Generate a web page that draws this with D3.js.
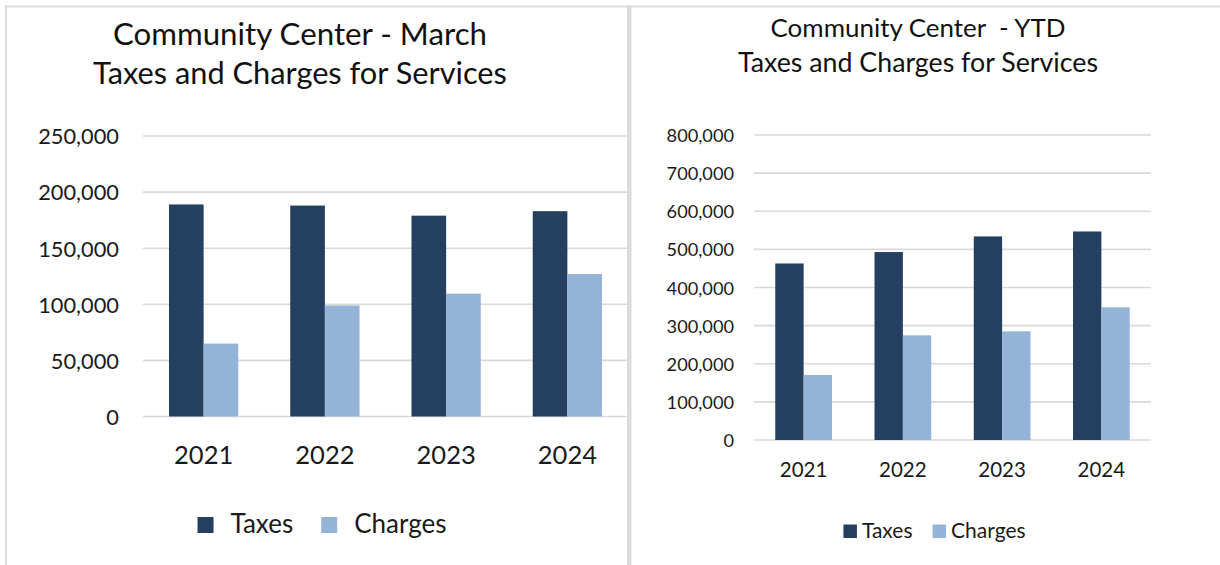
<!DOCTYPE html>
<html>
<head>
<meta charset="utf-8">
<script src="https://cdn.jsdelivr.net/npm/d3@7"></script>
<style>
  html, body { margin: 0; padding: 0; background: #fff; }
  svg { display: block; font-family: Lato, "Noto Sans", sans-serif; }
  .title { white-space: pre; }
</style>
</head>
<body>
<svg id="chart" width="1220" height="565"></svg>
<script>
// ---------- data ----------
const years = ["2021", "2022", "2023", "2024"];
const seriesNames = ["Taxes", "Charges"];
const seriesColors = ["#243F60", "#95B3D7"];

const marchTaxes   = [189000, 188000, 179000, 183000];
const marchCharges = [65000, 99000, 109500, 127000];
const marchTicks   = [0, 50000, 100000, 150000, 200000, 250000];

const ytdTaxes   = [463000, 493000, 534000, 547000];
const ytdCharges = [170500, 274500, 285000, 348000];
const ytdTicks   = [0, 100000, 200000, 300000, 400000, 500000, 600000, 700000, 800000];

const marchTitle = ["Community Center - March", "Taxes and Charges for Services"];
const ytdTitle   = ["Community Center  - YTD", "Taxes and Charges for Services"];

// ---------- frame ----------
const svg = d3.select("#chart");
const border = "#dcdcdc";
svg.append("rect").attr("x", 0).attr("y", 0).attr("width", 1220).attr("height", 565).attr("fill", "#fff");
svg.append("rect").attr("x", 5).attr("y", 5.5).attr("width", 1215).attr("height", 2).attr("fill", border);
svg.append("rect").attr("x", 5).attr("y", 5.5).attr("width", 2).attr("height", 560).attr("fill", border);
svg.append("rect").attr("x", 627).attr("y", 5.5).attr("width", 4.5).attr("height", 560).attr("fill", border);

const fmt = d3.format(",");

function fitText(sel, width) {
  const node = sel.node();
  const fs = parseFloat(sel.attr("font-size"));
  const w = node.getComputedTextLength();
  sel.attr("font-size", (fs * width / w).toFixed(2));
}

function drawChart(cfg) {
  const g = svg.append("g");
  const values = [cfg.taxes, cfg.charges];
  const data = years.map((yr, i) => ({ year: yr, vals: seriesNames.map((s, k) => ({ key: s, value: values[k][i], color: seriesColors[k] })) }));

  const x0 = d3.scaleBand().domain(years).range([cfg.left, cfg.right]).paddingInner(0).paddingOuter(0);
  const x1 = d3.scaleBand().domain(seriesNames).range([0, x0.bandwidth()]).paddingInner(0).paddingOuter(0.75);
  const y = d3.scaleLinear().domain([0, d3.max(cfg.ticks)]).range([cfg.bottom, cfg.top]);

  // titles
  cfg.title.forEach((t, i) => {
    const tt = g.append("text").attr("class", "title")
      .attr("x", cfg.titleX).attr("y", cfg.titleY[i])
      .attr("text-anchor", "middle").attr("fill", "#111")
      .attr("font-size", 24).text(t);
    fitText(tt, cfg.titleW[i]);
  });

  // gridlines
  g.append("g").selectAll("line").data(cfg.ticks).join("line")
    .attr("x1", cfg.left).attr("x2", cfg.gridRight)
    .attr("y1", d => y(d)).attr("y2", d => y(d))
    .attr("stroke", "#d9d9d9").attr("stroke-width", 1.6);

  // y axis labels
  const yAxis = d3.axisLeft(y).tickValues(cfg.ticks).tickFormat(fmt).tickSize(0).tickPadding(0);
  const ya = g.append("g").attr("transform", `translate(${cfg.yLabelX},0)`).call(yAxis);
  ya.select(".domain").remove();
  ya.selectAll("text").attr("font-size", cfg.yFont).attr("fill", "#1a1a1a")
    .attr("font-family", "Lato, 'Noto Sans', sans-serif").attr("dy", "0.36em");

  // bars
  const groups = g.append("g").selectAll("g").data(data).join("g")
    .attr("transform", d => `translate(${x0(d.year)},0)`);
  groups.selectAll("rect").data(d => d.vals).join("rect")
    .attr("x", d => x1(d.key)).attr("width", x1.bandwidth())
    .attr("y", d => y(d.value)).attr("height", d => y(0) - y(d.value))
    .attr("fill", d => d.color);

  // x axis labels
  const xAxis = d3.axisBottom(x0).tickSize(0).tickPadding(0);
  const xa = g.append("g").attr("transform", `translate(0,${cfg.xLabelY})`).call(xAxis);
  xa.select(".domain").remove();
  xa.selectAll("text").attr("font-size", cfg.xFont).attr("fill", "#1a1a1a")
    .attr("font-family", "Lato, 'Noto Sans', sans-serif").attr("dy", 0);

  // legend
  const lg = g.append("g");
  let cx = 0;
  seriesNames.forEach((s, k) => {
    const it = lg.append("g");
    it.append("rect").attr("x", 0).attr("y", -cfg.sq).attr("width", cfg.sq).attr("height", cfg.sq).attr("fill", seriesColors[k]);
    const tx = it.append("text").attr("x", cfg.sq + cfg.sqGap).attr("y", 0)
      .attr("font-size", cfg.legFont).attr("fill", "#1a1a1a").text(s);
    const w = cfg.sq + cfg.sqGap + tx.node().getComputedTextLength();
    it.attr("transform", `translate(${cx},0)`);
    cx += w + cfg.itemGap;
  });
  const total = cx - cfg.itemGap;
  lg.attr("transform", `translate(${cfg.legCenter - total / 2},${cfg.legY})`);
}

drawChart({
  taxes: marchTaxes, charges: marchCharges, ticks: marchTicks, title: marchTitle,
  left: 143, right: 628, gridRight: 627, top: 136, bottom: 416.5,
  titleX: 300, titleY: [45, 84], titleW: [374, 414],
  yLabelX: 119, yFont: 21.8, xLabelY: 464, xFont: 25.5,
  legCenter: 322, legY: 533, sq: 16, sqGap: 17, itemGap: 28, legFont: 26
});

drawChart({
  taxes: ytdTaxes, charges: ytdCharges, ticks: ytdTicks, title: ytdTitle,
  left: 754, right: 1151, gridRight: 1151, top: 135, bottom: 440,
  titleX: 918, titleY: [37, 72], titleW: [295, 360],
  yLabelX: 734, yFont: 18.2, xLabelY: 477, xFont: 20.5,
  legCenter: 934.5, legY: 538, sq: 13.5, sqGap: 5, itemGap: 20, legFont: 21
});
</script>
</body>
</html>
